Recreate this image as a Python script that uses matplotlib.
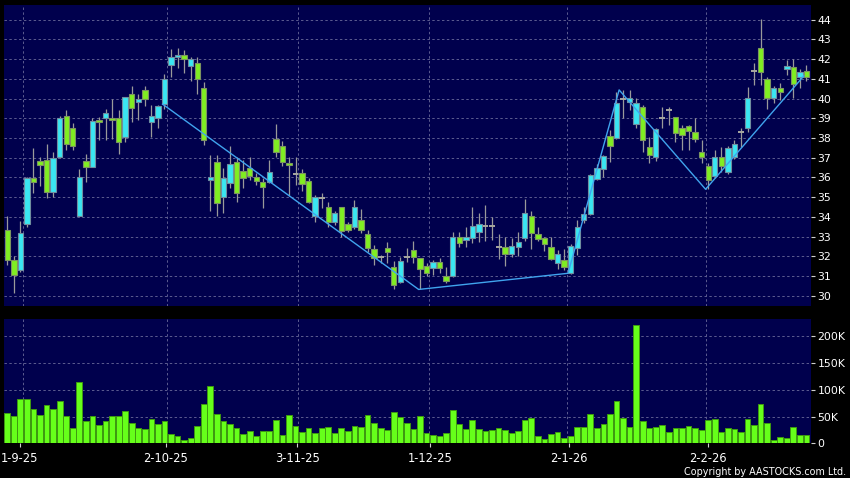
import numpy as np
import matplotlib.pyplot as plt

# daily candles (index 0 = first candle)
opens = [33.33, 31.81, 31.30, 33.62, 35.99, 36.82, 36.87, 35.28, 37.02, 39.12,
         38.51, 34.04, 36.82, 36.51, 38.91, 39.00, 39.02, 39.00, 38.03, 40.22,
         39.81, 40.44, 38.83, 39.00, 39.73, 41.69, 42.10, 42.20, 41.65, 41.79,
         40.53, 35.87, 36.80, 35.02, 35.73, 36.80, 36.35, 36.46, 36.00, 35.78,
         35.78, 37.93, 37.60, 36.72, 36.19, 36.21, 35.83, 34.04, 34.97, 34.52,
         33.75, 34.52, 33.62, 33.50, 33.84, 33.11, 32.37, 31.95, 32.40, 31.44,
         30.71, 31.95, 32.32, 31.90, 31.52, 31.42, 31.73, 31.01, 31.01, 32.96,
         32.83, 32.91, 33.22, 33.55, 33.54, 32.49, 32.46, 32.12, 32.49, 32.91,
         34.06, 33.11, 32.91, 32.49, 31.67, 31.81, 31.14, 32.40, 33.84, 34.15,
         35.91, 36.43, 38.10, 38.00, 39.98, 39.81, 38.71, 39.57, 37.53, 37.02,
         39.00, 39.43, 39.08, 38.49, 38.61, 38.32, 37.31, 36.60, 36.07, 37.02,
         36.29, 37.02, 38.28, 38.49, 41.42, 42.55, 40.99, 40.01, 40.52, 41.49,
         41.62, 41.11, 41.42]
highs = [34.04, 32.00, 33.80, 36.00, 37.48, 37.05, 37.70, 37.29, 39.12, 39.42,
         38.75, 36.41, 37.18, 39.00, 39.08, 39.49, 40.00, 39.42, 40.10, 40.64,
         40.22, 40.64, 39.67, 39.66, 41.25, 42.50, 42.55, 42.47, 42.09, 42.09,
         40.86, 37.14, 37.14, 36.46, 37.61, 37.05, 36.86, 37.05, 36.21, 35.96,
         36.88, 38.71, 37.86, 37.05, 37.02, 36.42, 35.96, 35.11, 35.23, 34.77,
         34.30, 34.52, 33.75, 34.86, 34.38, 33.33, 32.57, 32.06, 32.71, 31.78,
         31.98, 32.40, 32.79, 31.90, 31.64, 31.81, 31.90, 31.47, 33.22, 33.22,
         33.50, 34.49, 34.18, 34.60, 34.00, 33.13, 32.96, 32.91, 33.22, 34.91,
         34.31, 33.50, 32.99, 33.00, 32.32, 32.35, 32.60, 33.84, 34.50, 36.20,
         36.70, 37.14, 38.41, 40.35, 40.44, 40.44, 40.01, 39.67, 38.07, 38.49,
         39.56, 39.56, 39.08, 38.66, 38.66, 39.00, 37.90, 36.72, 37.39, 37.56,
         37.60, 37.90, 38.49, 40.57, 41.79, 44.02, 41.08, 40.64, 40.78, 41.96,
         41.99, 41.49, 41.70]
lows = [31.56, 30.15, 31.20, 33.50, 35.20, 35.58, 34.94, 34.99, 37.00, 37.39,
        37.39, 34.04, 35.78, 36.51, 37.90, 37.90, 37.93, 37.19, 37.81, 38.83,
        38.91, 39.62, 38.07, 38.49, 39.47, 41.08, 41.54, 41.31, 40.89, 40.22,
        37.65, 34.30, 34.04, 34.21, 35.45, 34.77, 35.45, 35.87, 35.62, 34.43,
        35.73, 37.05, 36.60, 35.06, 35.60, 35.30, 34.69, 33.75, 34.43, 33.50,
        33.60, 32.96, 33.22, 33.40, 33.17, 32.23, 31.56, 31.64, 31.64, 30.32,
        30.66, 31.73, 31.64, 30.32, 31.00, 31.05, 31.17, 30.66, 30.95, 32.46,
        32.49, 32.70, 32.74, 32.80, 32.83, 31.85, 31.52, 31.98, 32.01, 32.80,
        32.35, 32.80, 32.27, 31.80, 31.34, 31.30, 31.10, 32.06, 33.70, 34.10,
        35.85, 36.00, 36.80, 37.95, 39.00, 39.42, 38.49, 37.31, 36.72, 36.83,
        38.49, 38.66, 37.81, 37.39, 37.39, 37.81, 36.72, 35.40, 35.96, 36.29,
        36.20, 36.95, 37.56, 38.32, 40.69, 40.69, 39.46, 39.76, 39.93, 41.20,
        40.01, 40.52, 40.91]
closes = [31.81, 31.05, 33.20, 35.99, 35.75, 36.62, 35.28, 36.97, 39.00, 37.69,
          37.61, 36.00, 36.51, 38.86, 38.80, 39.25, 38.91, 37.78, 40.10, 39.51,
          39.98, 40.00, 39.12, 39.62, 40.99, 42.10, 42.20, 41.99, 41.99, 40.99,
          37.90, 36.04, 34.69, 35.96, 36.67, 35.20, 35.96, 36.07, 35.83, 35.50,
          36.26, 37.28, 36.77, 36.62, 36.19, 35.67, 34.77, 34.99, 34.97, 33.75,
          34.18, 33.28, 33.33, 34.49, 33.33, 32.40, 31.90, 31.95, 32.20, 30.54,
          31.78, 31.95, 31.95, 31.34, 31.17, 31.73, 31.39, 30.76, 32.96, 32.66,
          32.96, 33.55, 33.62, 33.55, 33.54, 32.49, 32.12, 32.52, 32.74, 34.18,
          33.20, 32.86, 32.61, 31.85, 32.12, 31.44, 32.54, 33.50, 34.15, 36.12,
          36.46, 37.09, 37.60, 39.80, 39.98, 40.01, 39.80, 37.90, 37.14, 38.44,
          39.00, 39.43, 38.24, 38.15, 38.36, 37.93, 37.02, 35.87, 37.02, 36.58,
          37.51, 37.70, 38.28, 40.01, 41.42, 41.33, 40.01, 40.52, 40.32, 41.67,
          40.74, 41.37, 41.08]
volumes = [56.4, 50.8, 83.0, 81.8, 63.9, 52.0, 70.7, 63.2, 78.7, 51.4,
           29.1, 114.0, 40.9, 51.4, 33.5, 41.5, 51.4, 50.8, 60.8, 37.2,
           28.5, 26.0, 45.9, 36.0, 42.2, 18.0, 13.6, 6.8, 10.5, 32.2,
           73.1, 106.6, 55.1, 41.5, 35.3, 28.5, 16.7, 22.3, 13.6, 23.6,
           23.6, 43.4, 15.5, 52.0, 32.2, 21.1, 27.9, 19.2, 27.9, 30.4,
           19.8, 29.1, 22.9, 32.8, 29.7, 52.0, 37.8, 29.1, 24.2, 57.6,
           48.3, 37.2, 27.3, 50.8, 19.2, 14.9, 13.6, 19.2, 61.3, 36.0,
           27.3, 42.8, 26.6, 23.6, 24.2, 27.9, 25.4, 18.6, 23.6, 44.0,
           47.1, 14.3, 8.7, 17.3, 21.1, 9.3, 14.3, 29.7, 29.7, 54.5,
           29.1, 36.0, 54.5, 78.7, 47.1, 30.4, 220.0, 41.5, 28.5, 29.7,
           34.7, 21.7, 27.9, 27.9, 32.8, 28.5, 25.4, 43.4, 45.9, 21.7,
           27.9, 26.6, 21.1, 45.3, 34.1, 73.1, 37.8, 6.2, 11.8, 9.9,
           29.7, 15.5, 14.9]  # thousands of shares

# zigzag trend line (x in candle index units)
zig_x = [23.7, 62.8, 85.6, 93.4, 106.6, 121.6]
zig_y = [39.72, 30.32, 31.14, 40.44, 35.40, 41.15]

date_labels = ['1-9-25', '2-10-25', '3-11-25', '1-12-25', '2-1-26', '2-2-26']
label_pos = [1.9, 24.2, 44.3, 64.5, 85.8, 107.0]
grid_pos = [2.45, 24.45, 44.45, 64.45, 85.5, 106.6]
price_ticks = list(range(30, 45))
vol_ticks = [0, 50, 100, 150, 200]
vol_tick_labels = ['0', '50K', '100K', '150K', '200K']

bg = '#00004d'
up_col = '#3ae6f2'
down_col = '#80ee22'
grid_col = '#5c5c90'

o = np.array(opens); h = np.array(highs); l = np.array(lows); c = np.array(closes)
x = np.arange(len(o))

fig = plt.figure(figsize=(8.5, 4.78), dpi=100, facecolor='black')
ax = fig.add_axes([0.0047, 0.3598, 0.9491, 0.6291], facecolor=bg)
axv = fig.add_axes([0.0047, 0.0722, 0.9491, 0.2598], facecolor=bg)

# candles
ax.vlines(x, l, h, color='#9a9a9a', lw=0.9, zorder=2)
up = c > o
down = c < o
flat = c == o
ax.bar(x[up], (c - o)[up], bottom=o[up], width=0.82, color=up_col,
       edgecolor='#6f8ea0', lw=0.8, zorder=3)
ax.bar(x[down], (o - c)[down], bottom=c[down], width=0.82, color=down_col,
       edgecolor='#7c9460', lw=0.8, zorder=3)
ax.hlines(c[flat], x[flat] - 0.45, x[flat] + 0.45, color='#a8a8a0', lw=1.4, zorder=3)

ax.plot(zig_x, zig_y, color='#40a4ee', lw=1.0, zorder=4)

# volume
axv.bar(x, np.array(volumes), width=0.88, color='#66ff1a', edgecolor='#3f9a10',
        lw=0.7, zorder=3)

for a in (ax, axv):
    a.set_xlim(-0.5, 122.65)
    for s in a.spines.values():
        s.set_visible(False)
    a.set_xticks(grid_pos, minor=True)
    a.grid(True, which='minor', axis='x', color=grid_col, ls=(0, (2.5, 2.5)), lw=0.7)
    a.grid(True, which='major', axis='y', color=grid_col, ls=(0, (2.5, 2.5)), lw=0.7)
    a.yaxis.tick_right()
    a.tick_params(axis='y', colors='#d0d0d0', labelcolor='white', length=3,
                  width=0.8, pad=2, labelsize=7.8)
    a.tick_params(axis='x', which='minor', length=0)
    a.set_axisbelow(True)

ax.set_ylim(29.48, 44.73)
ax.set_yticks(price_ticks)
ax.set_xticks([])

axv.set_ylim(0, 230.5)
axv.set_yticks(vol_ticks)
axv.set_yticklabels(vol_tick_labels)
axv.set_xticks(label_pos)
axv.set_xticklabels(date_labels)
axv.tick_params(axis='x', which='major', colors='#d0d0d0', labelcolor='white',
                length=3, width=0.8, pad=3, labelsize=8.3)

fig.text(0.995, 0.013, 'Copyright by AASTOCKS.com Ltd.', color='white',
         fontsize=6.9, ha='right', va='center')

fig.savefig('out.png', dpi=100, facecolor='black')
